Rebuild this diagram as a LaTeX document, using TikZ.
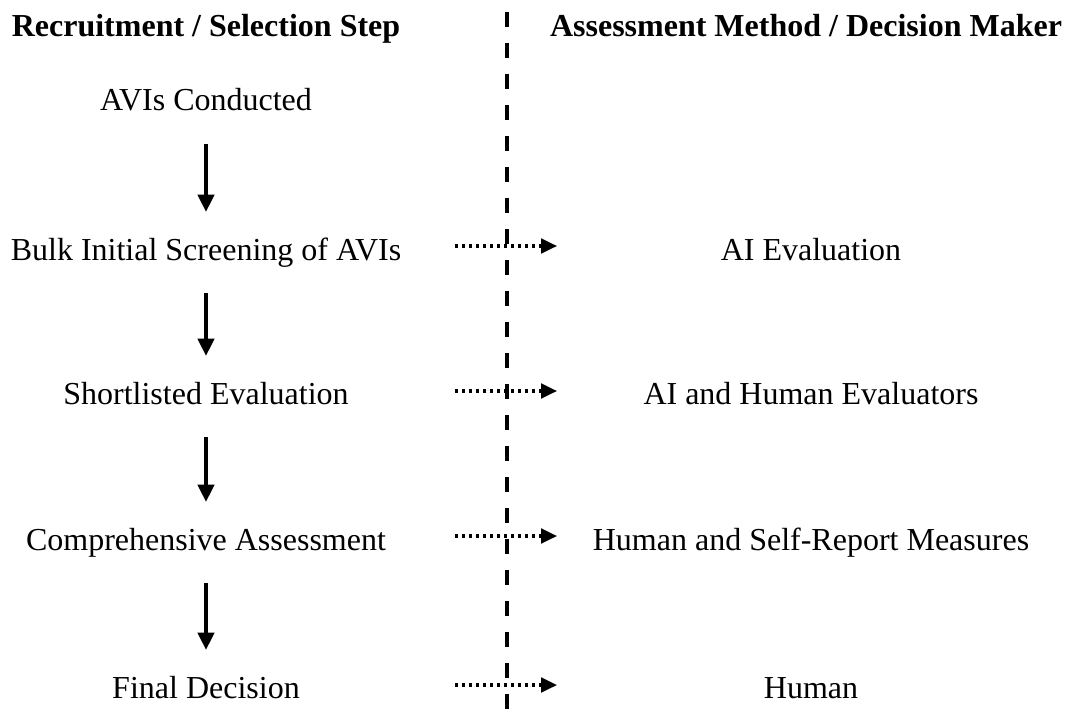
\documentclass[tikz,border=0pt]{standalone}
\usepackage{fontspec}
\setmainfont{Liberation Serif}
\usepackage{tikz}
\usetikzlibrary{arrows.meta}

\begin{document}
\begin{tikzpicture}[x=0.75pt, y=-0.75pt,
    every node/.style={font=\fontsize{24}{28}\selectfont, inner sep=0pt, anchor=base},
    head/.style={font=\fontsize{24}{28}\selectfont\bfseries},
    flow/.style={-{Triangle[length=13pt, width=12pt]}, line width=3pt,
                 shorten <=25pt, shorten >=36pt},
    link/.style={-{Triangle[length=12pt, width=11pt]}, line width=2.4pt,
                 dash pattern=on 2.4pt off 2.85pt}]
    \useasboundingbox (0,0) rectangle (1069,720);
    % divider
    \draw[line width=3pt, dash pattern=on 11.25pt off 12pt] (507,12) -- (507,720);
    % headers
    \node[head] (hleft) at (206,37) {Recruitment / Selection Step};
    \node[head] (hright) at (806,37) {Assessment Method / Decision Maker};
    % steps
    \node (conducted) at (206,111) {AVIs Conducted};
    \node (screening) at (206,260) {Bulk Initial Screening of AVIs};
    \node (shortlist) at (206,404) {Shortlisted Evaluation};
    \node (comprehensive) at (206,550) {Comprehensive Assessment};
    \node (final) at (206,698) {Final Decision};
    % methods
    \node (ai) at (811,260) {AI Evaluation};
    \node (aihuman) at (811,404) {AI and Human Evaluators};
    \node (selfreport) at (811,550) {Human and Self-Report Measures};
    \node (human) at (811,698) {Human};
    % step arrows
    \draw[flow] (conducted.base) -- (screening.base);
    \draw[flow] (screening.base) -- (shortlist.base);
    \draw[flow] (shortlist.base) -- (comprehensive.base);
    \draw[flow] (comprehensive.base) -- (final.base);
    % method links
    \foreach \from/\to/\y in {screening/ai/246, shortlist/aihuman/391,
                              comprehensive/selfreport/536, final/human/685} {
        \coordinate (\from-out) at (455,\y);
        \coordinate (\to-in) at (557,\y);
        \draw[link] (\from-out) -- (\to-in);
    }
\end{tikzpicture}
\end{document}
